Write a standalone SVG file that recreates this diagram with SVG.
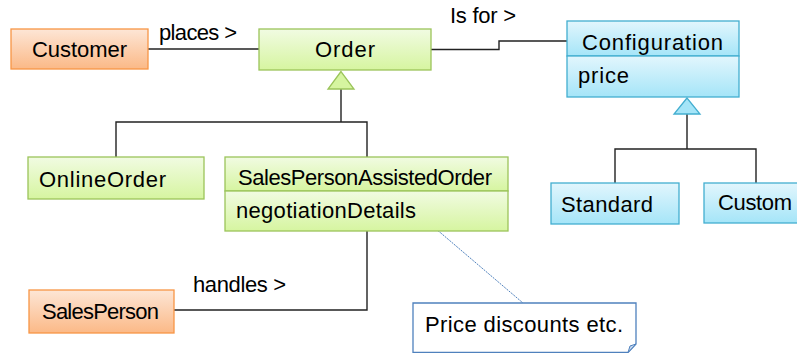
<svg xmlns="http://www.w3.org/2000/svg" width="797" height="353" viewBox="0 0 797 353">
<defs>
<linearGradient id="gOrange" x1="0" y1="0" x2="0" y2="1"><stop offset="0" stop-color="#fde6d6"/><stop offset="1" stop-color="#fbb987"/></linearGradient>
<linearGradient id="gGreen" x1="0" y1="0" x2="0" y2="1"><stop offset="0" stop-color="#f1fbe2"/><stop offset="1" stop-color="#d6f5a0"/></linearGradient>
<linearGradient id="gBlue" x1="0" y1="0" x2="0" y2="1"><stop offset="0" stop-color="#e2f6fd"/><stop offset="1" stop-color="#a5e5f8"/></linearGradient>
</defs>
<style>
text{font-family:"Liberation Sans",Arial,sans-serif;font-size:22px;fill:#000}
.or{fill:url(#gOrange);stroke:#f79646;stroke-width:1.3}
.gr{fill:url(#gGreen);stroke:#9bc45a;stroke-width:1.3}
.bl{fill:url(#gBlue);stroke:#43aed0;stroke-width:1.3}
.ln{fill:none;stroke:#222;stroke-width:1.4}
.trg{fill:#d6f5a0;stroke:#9bc45a;stroke-width:1.3}
.trb{fill:#a5e5f8;stroke:#43aed0;stroke-width:1.3}
.note{fill:#fff;stroke:#4f81bd;stroke-width:1.3}
.dash{fill:none;stroke:#4f81bd;stroke-width:1;stroke-dasharray:2 1}
</style>
<g id="connectors">
<path class="ln" d="M148,49 H259"/>
<path class="ln" d="M431,49.5 H499 V41 H567"/>
<path class="ln" d="M341,89 V122 M116,157 V122 H367 V157"/>
<polygon class="trg" points="341,71.5 328,89 354,89"/>
<path class="ln" d="M367,231 V310 H174"/>
<path class="ln" d="M687,114 V149 M615,183 V149 H756 V183"/>
<polygon class="trb" points="687,98 674,114 700,114"/>
<path class="dash" d="M422,217 L523,303"/>
<text x="159" y="40" textLength="78">places &gt;</text>
<text x="450" y="23" textLength="66">Is for &gt;</text>
<text x="193" y="292" textLength="93">handles &gt;</text>
</g>
<g id="customer">
<rect class="or" x="11" y="29" width="137" height="40"/>
<text x="32" y="57" textLength="95">Customer</text>
</g>
<g id="order">
<rect class="gr" x="259" y="29" width="172" height="41"/>
<text x="315" y="57" textLength="60">Order</text>
</g>
<g id="configuration">
<rect class="bl" x="567" y="21" width="172" height="35"/>
<rect class="bl" x="567" y="56" width="172" height="41"/>
<text x="582" y="50" textLength="141">Configuration</text>
<text x="578" y="83" textLength="51">price</text>
</g>
<g id="onlineorder">
<rect class="gr" x="28" y="157" width="176" height="42"/>
<text x="39" y="187" textLength="127">OnlineOrder</text>
</g>
<g id="salespersonassistedorder">
<rect class="gr" x="225" y="157" width="283" height="34"/>
<rect class="gr" x="225" y="191" width="283" height="40"/>
<text x="238" y="185" textLength="254">SalesPersonAssistedOrder</text>
<text x="236" y="218" textLength="180">negotiationDetails</text>
</g>
<g id="salesperson">
<rect class="or" x="29" y="290" width="145" height="43"/>
<text x="42" y="319" textLength="117">SalesPerson</text>
</g>
<g id="standard">
<rect class="bl" x="551" y="183" width="128" height="41"/>
<text x="561" y="212" textLength="92">Standard</text>
</g>
<g id="custom">
<rect class="bl" x="704" y="183" width="100" height="40"/>
<text x="718" y="210" textLength="74">Custom</text>
</g>
<g id="note">
<path class="note" d="M413,303 H636 V344 L628,352.5 H413 Z"/>
<path d="M628,352.5 L630,346 L636,344 Z" fill="#c5d7ee" stroke="#4f81bd" stroke-width="1"/>
<text x="425" y="332" textLength="198">Price discounts etc.</text>
</g>
</svg>
